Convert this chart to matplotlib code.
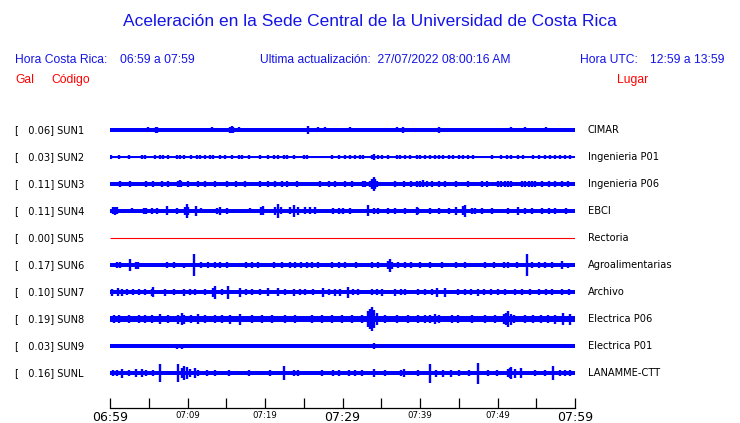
import matplotlib.pyplot as plt
import numpy as np

# region data
codes = ["SUN1", "SUN2", "SUN3", "SUN4", "SUN5", "SUN6", "SUN7", "SUN8", "SUN9", "SUNL"]
gal = [0.06, 0.03, 0.11, 0.11, 0.00, 0.17, 0.10, 0.19, 0.03, 0.16]
places = ["CIMAR", "Ingenieria P01", "Ingenieria P06", "EBCI", "Rectoria",
          "Agroalimentarias", "Archivo", "Electrica P06", "Electrica P01", "LANAMME-CTT"]
tick_labels = ["06:59", "07:09", "07:19", "07:29", "07:39", "07:49", "07:59"]

# base half-width of each trace (px) and bursts (minute, half-amplitude px)
base_amp = [2.0, 0.6, 2.0, 2.0, 0.0, 1.8, 2.5, 3.0, 1.6, 1.8]

sun1_t = [4.9, 5.9, 6.1, 13.2, 15.5, 15.7, 15.9, 16.6, 25.6, 26.9, 27.7, 31.0, 37.0, 37.8, 42.4, 51.7, 53.6, 56.3]
sun1_a = [2.5, 3.0, 3.0, 2.5, 3.0, 3.5, 3.0, 2.5, 4.0, 2.5, 2.5, 2.5, 2.5, 3.0, 3.3, 2.5, 2.5, 2.5]

sun2_t = [0.1, 1.1, 2.4, 4.1, 4.5, 5.8, 6.5, 6.9, 7.5, 8.6, 9.0, 9.5, 10.5, 11.2, 11.6, 12.3, 12.9, 13.3,
          14.2, 14.8, 15.7, 16.6, 17.0, 17.9, 19.4, 20.4, 21.1, 21.7, 22.4, 22.8, 23.7, 25.0, 25.4, 28.6,
          29.5, 30.3, 31.0, 31.6, 32.3, 32.7, 33.8, 34.1, 34.6, 35.1, 35.9, 37.0, 37.4, 38.1, 38.7, 39.6,
          40.0, 40.7, 41.3, 41.9, 42.4, 43.0, 43.7, 44.3, 45.0, 45.6, 46.2, 46.9, 49.3, 50.5, 51.2, 51.8,
          52.7, 53.3, 54.6, 55.3, 56.1, 56.8, 57.4, 58.1, 58.7, 59.4]
sun2_a = [1.7] * 41 + [2.7] + [1.7] * 34

sun3_t = [1.3, 2.6, 4.7, 5.6, 6.7, 7.5, 8.8, 9.0, 9.2, 10.1, 11.4, 12.3, 13.6, 15.1, 16.3, 17.4, 19.4,
          20.4, 21.3, 22.2, 22.8, 24.1, 27.1, 28.2, 29.0, 30.3, 31.2, 32.7, 32.9, 33.6, 33.8, 34.0, 34.2,
          34.4, 36.8, 37.9, 38.9, 39.6, 40.0, 40.4, 40.9, 41.5, 42.4, 43.2, 44.7, 46.2, 48.0, 48.6, 50.1,
          50.5, 51.0, 51.4, 51.8, 53.1, 53.6, 54.0, 54.4, 54.8, 55.7, 56.6, 57.4, 58.3, 59.1]
sun3_a = [2.7, 2.7, 3.0, 2.7, 2.7, 2.7, 3.0, 3.5, 3.0, 2.7, 2.7, 2.7, 2.7, 2.7, 2.7, 2.7, 2.7,
          2.7, 2.7, 2.7, 2.7, 2.7, 2.7, 2.7, 2.7, 2.7, 2.7, 2.7, 2.7, 3.0, 5.0, 7.0, 5.0,
          3.0, 2.7, 2.7, 2.7, 2.7, 2.7, 3.5, 2.7, 2.7, 2.7, 2.7, 2.7, 2.7, 2.7, 2.7, 2.7,
          2.7, 2.7, 2.7, 2.7, 2.7, 2.7, 2.7, 2.7, 2.7, 2.7, 2.7, 2.7, 2.7, 2.7]

sun4_t = [0.4, 0.65, 0.9, 2.8, 4.4, 4.6, 5.4, 6.0, 7.3, 8.6, 9.7, 9.9, 10.1, 11.05, 11.8, 13.8, 14.2,
          15.1, 18.1, 19.5, 19.7, 21.3, 21.7, 22.1, 23.2, 23.8, 24.3, 25.2, 25.8, 26.5, 28.8, 29.5, 30.1,
          31.0, 33.25, 34.0, 34.6, 35.9, 36.8, 38.1, 39.6, 39.8, 41.3, 42.4, 43.7, 44.7, 45.6, 45.8, 46.7,
          47.1, 48.0, 49.3, 51.4, 52.6, 53.6, 54.4, 55.7, 56.6, 57.4, 58.9]
sun4_a = [3.5, 4.0, 3.5, 2.5, 3.0, 3.3, 2.7, 2.7, 4.5, 3.0, 4.0, 6.7, 4.0, 5.0, 2.5, 3.3, 4.0,
          3.0, 2.5, 4.0, 4.5, 4.0, 7.3, 3.5, 3.5, 6.3, 4.0, 3.5, 3.5, 3.5, 2.7, 2.7, 2.7,
          3.0, 5.5, 3.0, 3.0, 3.0, 3.0, 3.0, 4.0, 3.0, 3.0, 3.0, 3.0, 4.0, 4.5, 6.0, 3.3,
          3.3, 2.7, 2.7, 3.3, 4.3, 3.0, 3.0, 3.0, 3.0, 3.0, 3.0]

sun5_t = []
sun5_a = []

sun6_t = [0.9, 1.3, 2.6, 3.4, 3.6, 7.3, 8.2, 9.5, 10.9, 11.8, 12.7, 13.6, 14.2, 15.1, 17.6, 18.3, 19.1,
          21.1, 22.2, 23.2, 23.9, 24.7, 25.4, 26.0, 26.9, 28.6, 29.5, 30.3, 31.8, 33.8, 34.6, 35.9, 36.1,
          36.4, 37.2, 38.1, 38.9, 40.0, 41.3, 42.8, 44.7, 45.8, 48.4, 49.5, 50.8, 51.4, 52.5, 53.85, 54.4,
          55.3, 56.1, 57.0, 58.3, 59.1]
sun6_a = [3.0, 3.0, 6.0, 3.5, 3.5, 2.7, 2.7, 2.5, 10.7, 2.7, 2.7, 2.7, 2.7, 2.7, 2.7, 2.7, 2.7,
          2.7, 2.7, 2.7, 2.7, 3.3, 3.3, 3.3, 3.3, 2.7, 2.7, 2.7, 2.7, 2.7, 2.7, 4.0, 6.5,
          3.5, 3.3, 3.3, 3.3, 2.7, 2.7, 2.7, 3.3, 2.7, 2.7, 2.7, 2.7, 2.7, 2.7, 10.7, 2.7,
          2.7, 2.7, 2.7, 4.0, 2.5]

sun7_t = [0.2, 1.0, 1.5, 2.2, 3.0, 3.8, 4.5, 5.4, 5.6, 7.1, 8.2, 9.5, 10.3, 11.0, 12.3, 13.3, 13.55,
          14.4, 15.2, 16.8, 17.6, 18.3, 19.4, 20.4, 21.7, 22.6, 23.7, 24.5, 25.2, 26.2, 27.5, 28.3, 29.0,
          29.7, 30.75, 31.4, 32.0, 33.8, 34.4, 35.1, 36.8, 37.5, 38.1, 39.8, 40.7, 41.5, 42.2, 43.2, 44.9,
          45.8, 46.6, 47.5, 48.3, 49.2, 50.1, 51.0, 52.2, 53.1, 54.2, 55.3, 56.2, 57.0, 58.3, 59.2]
sun7_a = [3.5, 4.0, 3.5, 3.3, 3.3, 3.3, 3.0, 3.5, 5.0, 3.5, 3.0, 3.5, 3.0, 3.3, 3.3, 4.5, 6.5,
          3.0, 6.5, 4.5, 3.0, 3.0, 3.0, 4.0, 4.0, 3.0, 3.5, 3.0, 3.0, 3.0, 4.5, 3.0, 3.5,
          3.5, 5.5, 3.0, 3.3, 3.3, 3.0, 3.5, 3.5, 3.0, 3.0, 3.0, 3.0, 3.0, 4.5, 4.5, 3.3,
          3.0, 3.3, 3.5, 3.3, 3.0, 3.3, 3.3, 3.0, 3.3, 3.0, 3.3, 3.0, 3.3, 3.3, 3.3]

sun8_t = [0.5, 1.1, 2.4, 3.7, 4.5, 5.4, 6.45, 7.5, 8.8, 9.25, 9.6, 10.5, 11.4, 12.3, 13.6, 14.4, 15.5,
          16.8, 18.3, 19.6, 20.9, 22.6, 23.9, 26.0, 27.3, 28.6, 29.9, 31.2, 32.5, 33.3, 33.6, 33.85, 34.1,
          34.4, 35.5, 37.0, 38.5, 39.8, 40.7, 41.3, 41.9, 42.4, 44.1, 44.9, 46.7, 48.4, 49.7, 50.8, 51.1,
          51.4, 51.7, 52.1, 53.5, 54.6, 55.6, 56.5, 57.4, 58.5, 59.3]
sun8_a = [3.7, 3.7, 4.0, 3.7, 3.7, 3.7, 5.0, 3.7, 4.5, 6.0, 4.5, 3.7, 5.0, 3.7, 3.7, 3.7, 4.5,
          5.5, 3.7, 3.7, 3.7, 3.7, 3.7, 3.7, 3.7, 3.7, 3.7, 3.7, 3.7, 8.0, 10.0, 12.0, 9.0,
          6.0, 3.7, 3.7, 3.7, 3.7, 4.0, 4.0, 5.0, 4.0, 3.7, 3.7, 3.7, 3.7, 3.7, 5.0, 6.0,
          8.0, 5.5, 4.0, 4.0, 4.0, 4.0, 4.0, 4.5, 6.0, 5.5]

sun9_t = [3.0, 8.6, 9.25, 14.0, 20.5, 26.0, 34.0, 40.65, 41.9, 47.0, 53.0]
sun9_a = [2.0, 2.5, 2.5, 2.0, 2.0, 2.0, 2.7, 2.3, 2.3, 2.0, 2.0]

sunl_t = [0.4, 0.9, 1.5, 2.4, 3.4, 4.1, 4.7, 5.6, 6.5, 8.8, 9.3, 9.6, 9.9, 10.3, 11.0, 11.4, 12.5,
          13.5, 15.3, 17.9, 20.6, 22.4, 23.7, 24.3, 27.3, 28.8, 29.5, 30.8, 31.6, 32.5, 34.0, 35.5, 37.6,
          37.9, 39.8, 41.3, 42.0, 43.0, 44.0, 45.0, 46.3, 47.5, 48.8, 49.9, 51.3, 51.6, 51.8, 52.3, 53.0,
          54.8, 56.1, 57.2, 58.0, 58.7, 59.4]
sunl_a = [3.0, 3.0, 4.5, 3.0, 4.0, 4.0, 3.3, 3.0, 8.8, 9.0, 5.0, 6.7, 6.0, 4.0, 5.0, 3.3, 3.3,
          3.3, 3.3, 3.3, 3.3, 7.3, 3.3, 3.3, 3.0, 3.0, 3.0, 3.3, 3.3, 3.3, 4.0, 3.3, 3.3,
          4.0, 3.3, 9.5, 3.5, 3.5, 3.5, 3.3, 3.3, 10.5, 3.3, 3.3, 4.0, 5.0, 6.0, 4.5, 5.0,
          3.3, 3.3, 7.2, 3.3, 3.3, 3.3]
# endregion

burst_t = [sun1_t, sun2_t, sun3_t, sun4_t, sun5_t, sun6_t, sun7_t, sun8_t, sun9_t, sunl_t]
burst_a = [sun1_a, sun2_a, sun3_a, sun4_a, sun5_a, sun6_a, sun7_a, sun8_a, sun9_a, sunl_a]
trace_colors = ["#0000ff"] * 4 + ["#ff0000"] + ["#0000ff"] * 5

W, H = 740, 423
PX = 27.0  # pixels between traces -> amplitudes in px are divided by this
head_font = "Liberation Sans"
label_font = "DejaVu Sans"
blue = "#1414e6"
red = "#ff0000"
head_size = 8.7


def fx(x):
    return x / W


def fy(y):
    return 1 - y / H


def main():
    fig = plt.figure(figsize=(W / 100, H / 100), dpi=100)
    ax = fig.add_axes([fx(110), fy(408), (575 - 110) / W, (408 - 103) / H])

    for i in range(len(codes)):
        # thin center line, then the noise band and the bursts
        ax.hlines(i, 0, 60, color=trace_colors[i], lw=0.8)
        b = base_amp[i] / PX
        if b > 0:
            ax.fill_between([0, 60], [i - b, i - b], [i + b, i + b], color=trace_colors[i], lw=0)
        t = np.array(burst_t[i])
        a = np.array(burst_a[i]) / PX
        if len(t):
            ax.vlines(t, i - a, i + a, color=trace_colors[i], lw=1.7)

    ax.set_xlim(0, 60)
    ax.set_ylim((408 - 130) / PX, (103 - 130) / PX)
    for s in ["left", "right", "top"]:
        ax.spines[s].set_visible(False)
    ax.spines["bottom"].set_linewidth(0.9)
    ax.set_yticks([])
    ax.set_xticks(np.arange(0, 61, 10))
    ax.set_xticks(np.arange(0, 61, 5), minor=True)
    ax.set_xticklabels(tick_labels)
    ax.tick_params(axis="x", which="both", direction="in", length=7.5, width=0.9, pad=2)
    for k, lab in enumerate(ax.get_xticklabels()):
        lab.set_fontfamily(label_font)
        lab.set_fontsize(9.0 if k % 3 == 0 else 6.2)

    # station labels
    for i in range(len(codes)):
        yc = 130 + 27 * i
        fig.text(fx(15), fy(yc), f"[   {gal[i]:.2f}] {codes[i]}", family=label_font,
                 fontsize=7.1, va="center", ha="left")
        fig.text(fx(588), fy(yc), places[i], family=label_font,
                 fontsize=7.1, va="center", ha="left")

    # header
    fig.text(fx(370), fy(22), "Aceleración en la Sede Central de la Universidad de Costa Rica",
             family=head_font, fontsize=12.5, color=blue, ha="center", va="center")
    fig.text(fx(15), fy(60), "Hora Costa Rica:", family=head_font, fontsize=head_size,
             color=blue, va="center")
    fig.text(fx(120), fy(60), "06:59 a 07:59", family=head_font, fontsize=head_size,
             color=blue, va="center")
    fig.text(fx(260), fy(60), "Ultima actualización:  27/07/2022 08:00:16 AM", family=head_font,
             fontsize=head_size, color=blue, va="center")
    fig.text(fx(580), fy(60), "Hora UTC:", family=head_font, fontsize=head_size,
             color=blue, va="center")
    fig.text(fx(725), fy(60), "12:59 a 13:59", family=head_font, fontsize=head_size,
             color=blue, va="center", ha="right")
    fig.text(fx(15), fy(80), "Gal", family=head_font, fontsize=head_size, color=red, va="center")
    fig.text(fx(51), fy(80), "Código", family=head_font, fontsize=head_size, color=red, va="center")
    fig.text(fx(648), fy(80), "Lugar", family=head_font, fontsize=head_size, color=red,
             va="center", ha="right")

    fig.savefig("out.png", dpi=100)


if __name__ == "__main__":
    main()
